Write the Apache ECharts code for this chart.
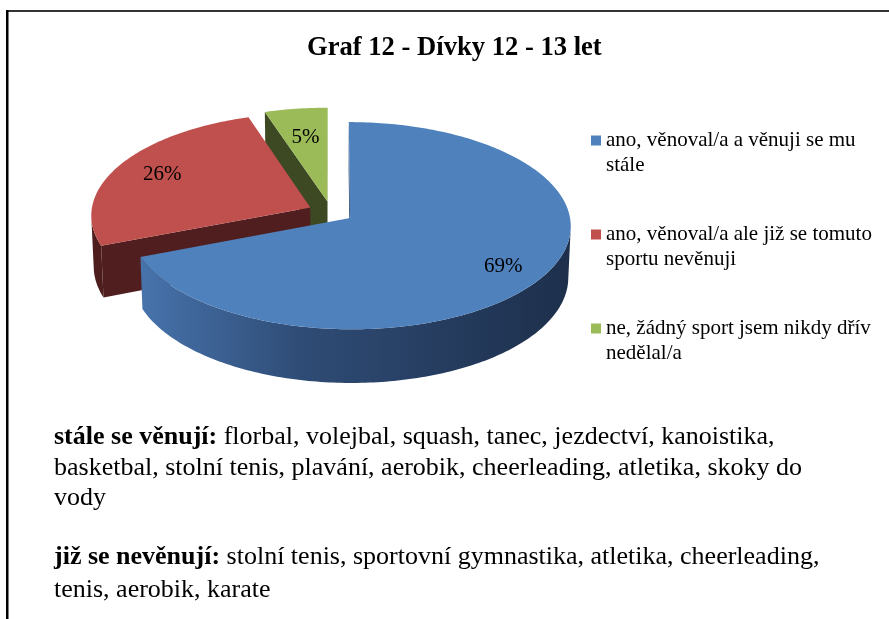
<!DOCTYPE html>
<html>
<head>
<meta charset="utf-8">
<script src="https://cdn.jsdelivr.net/npm/echarts@6/dist/echarts.min.js"></script>
<style>
  html, body { margin: 0; padding: 0; background: #fff; }
  #main { width: 889px; height: 619px; }
</style>
</head>
<body>
<div id="main"></div>
<script>
// data
var chartTitle = 'Graf 12 - Dívky 12 - 13 let'
var categories = [
  'ano, věnoval/a a věnuji se mu\nstále',
  'ano, věnoval/a ale již se tomuto\nsportu nevěnuji',
  'ne, žádný sport jsem nikdy dřív\nnedělal/a'
]
var values = [69, 26, 5]
var stillHead = 'stále se věnují:'
var stillLines = [
  'florbal, volejbal, squash, tanec, jezdectví, kanoistika,',
  'basketbal, stolní tenis, plavání, aerobik, cheerleading, atletika, skoky do',
  'vody'
]
var formerHead = 'již se nevěnují:'
var formerLines = [
  'stolní tenis, sportovní gymnastika, atletika, cheerleading,',
  'tenis, aerobik, karate'
]

// look
var topColors = ['#4F81BD', '#C0504D', '#9BBB59']
var sideColors = ['#2C4770', '#501E1E', '#3D4923']
var wallColors = [
  { type: 'linear', x: 0, y: 0, x2: 1, y2: 0,
    colorStops: [{ offset: 0, color: '#4773AC' }, { offset: 0.37, color: '#2F4C76' }, { offset: 1, color: '#1D2F4B' }] },
  '#4E1D1D',
  '#3A4620'
]
var labelR = [0.81, 0.77, 0.68]
var serif = '"Liberation Serif", "Times New Roman", serif'

// 3d pie geometry
var cx = 331, cy = 212, R = 219, T = 58, explode = 23
var tilt = 27.8 * Math.PI / 180, D = 2650
var sinT = Math.sin(tilt), cosT = Math.cos(tilt)
var rad = Math.PI / 180

function project(u, v, h) {
  var up = v * sinT + h * cosT
  var depth = v * cosT - h * sinT
  var s = D / (D + depth)
  return [cx + u * s, cy - up * s]
}

function facing(pu, pv, nAng) {
  // dot of normal with vector to camera
  return -pu * Math.sin(nAng) + Math.cos(nAng) * (-D * cosT - pv) > 0
}

function renderSlice(params, api) {
  var val = api.value(0)
  var idx = api.value(1)
  var total = 0, before = 0
  values.forEach(function (v, i) {
    total += v
    if (i < idx) before += v
  })
  var a0 = before / total * 360
  var a1 = (before + val) / total * 360
  var mid = (a0 + a1) / 2 * rad
  var eu = explode * Math.sin(mid), ev = explode * Math.cos(mid)
  function pt(angDeg, r, h) {
    var a = angDeg * rad
    return project(eu + r * Math.sin(a), ev + r * Math.cos(a), h)
  }
  var children = []

  // radial faces
  ;[[a0, a0 - 90], [a1, a1 + 90]].forEach(function (f) {
    var a = f[0] * rad
    var pu = eu + R / 2 * Math.sin(a), pv = ev + R / 2 * Math.cos(a)
    if (facing(pu, pv, f[1] * rad)) {
      children.push({
        type: 'polygon',
        shape: { points: [pt(0, 0, 0), pt(f[0], R, 0), pt(f[0], R, -T), pt(0, 0, -T)] },
        style: { fill: sideColors[idx] }
      })
    }
  })

  // outer wall, visible part only
  var angs = []
  var n = Math.max(2, Math.ceil(a1 - a0))
  for (var k = 0; k <= n; k++) angs.push(a0 + (a1 - a0) * k / n)
  var topPts = [], botPts = []
  angs.forEach(function (ad) {
    var a = ad * rad
    var pu = eu + R * Math.sin(a), pv = ev + R * Math.cos(a)
    if (facing(pu, pv, a)) {
      topPts.push(pt(ad, R, 0))
      botPts.push(pt(ad, R, -T))
    }
  })
  if (topPts.length > 1) {
    children.push({
      type: 'polygon',
      shape: { points: topPts.concat(botPts.reverse()) },
      style: { fill: wallColors[idx] }
    })
  }

  // top face
  var face = [pt(0, 0, 0)]
  angs.forEach(function (ad) { face.push(pt(ad, R, 0)) })
  children.push({
    type: 'polygon',
    shape: { points: face },
    style: { fill: topColors[idx] }
  })

  // label
  var lp = pt((a0 + a1) / 2, R * labelR[idx], 0)
  children.push({
    type: 'text',
    style: {
      text: Math.round(val / total * 100) + '%',
      x: lp[0], y: lp[1],
      align: 'center', verticalAlign: 'middle',
      font: '21px ' + serif,
      fill: '#000'
    }
  })
  return { type: 'group', children: children }
}

var myChart = echarts.init(document.getElementById('main'))

function textBlock(head, lines, top, lh) {
  return {
    type: 'text',
    left: 54,
    top: top,
    style: {
      text: '{b|' + head + '} ' + lines.join('\n'),
      fontFamily: serif,
      fontSize: 26,
      lineHeight: lh,
      fill: '#000',
      rich: {
        b: { fontFamily: serif, fontSize: 26, fontWeight: 'bold', lineHeight: lh, fill: '#000' }
      }
    }
  }
}

myChart.setOption({
  animation: false,
  title: {
    text: chartTitle,
    left: 307,
    top: 33,
    padding: 0,
    textStyle: { fontFamily: serif, fontSize: 26.6, fontWeight: 'bold', color: '#000', lineHeight: 30 }
  },
  legend: {
    orient: 'vertical',
    left: 591,
    top: 103,
    padding: 0,
    itemWidth: 10,
    itemHeight: 10,
    itemGap: 19,
    icon: 'rect',
    selectedMode: false,
    data: categories,
    formatter: function (name) { return '\n' + name },
    textStyle: { fontFamily: serif, fontSize: 21, lineHeight: 25, color: '#000' }
  },
  graphic: [
    { type: 'rect', shape: { x: 6, y: 10, width: 883, height: 2 }, style: { fill: '#333' } },
    { type: 'rect', shape: { x: 6, y: 10, width: 2.5, height: 609 }, style: { fill: '#000' } },
    textBlock(stillHead, stillLines, 422, 30.5),
    textBlock(formerHead, formerLines, 541, 33)
  ],
  series: categories.map(function (name, i) {
    return {
      type: 'custom',
      name: name,
      coordinateSystem: 'none',
      renderItem: renderSlice,
      data: [[values[i], i]],
      itemStyle: { color: topColors[i] },
      z: 5 - i
    }
  })
})
</script>
</body>
</html>
